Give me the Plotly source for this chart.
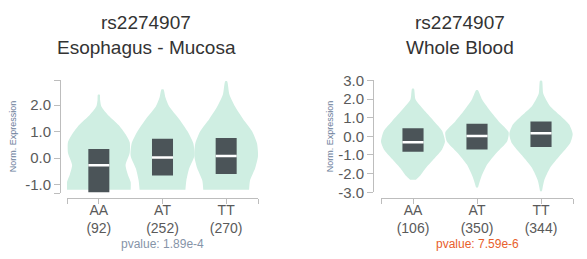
import plotly.graph_objects as go

# ---------------- data ----------------
categories = ["AA", "AT", "TT"]
snp = "rs2274907"
tissues = ["Esophagus - Mucosa", "Whole Blood"]
left_counts = [92, 252, 270]
right_counts = [106, 350, 344]
left_pvalue = "pvalue: 1.89e-4"
right_pvalue = "pvalue: 7.59e-6"

left_yticks = [-1.0, 0.0, 1.0, 2.0]
right_yticks = [-3.0, -2.0, -1.0, 0.0, 1.0, 2.0, 3.0]

# violin density profiles: expression levels and relative half-widths (0..1)
left_aa_y = [-1.2, -0.91, -0.62, -0.27, 0.2, 0.6, 0.9, 1.25, 1.6, 1.95, 2.2, 2.4]
left_aa_w = [1.0, 1.0, 0.91, 0.84, 0.97, 0.97, 0.84, 0.62, 0.31, 0.08, 0.04, 0.03]
left_at_y = [-1.2, -0.85, -0.39, 0.08, 0.55, 1.02, 1.48, 1.95, 2.3, 2.6]
left_at_w = [0.72, 0.75, 0.84, 1.0, 0.97, 0.78, 0.52, 0.21, 0.09, 0.03]
left_tt_y = [-1.2, -0.85, -0.39, 0.08, 0.55, 1.02, 1.48, 1.95, 2.42, 2.91]
left_tt_w = [0.72, 0.75, 0.91, 1.0, 0.97, 0.81, 0.53, 0.28, 0.10, 0.03]

right_aa_y = [-2.33, -2.12, -1.7, -1.2, -0.7, -0.28, 0.3, 0.8, 1.3, 1.97, 2.55]
right_aa_w = [0.09, 0.22, 0.40, 0.66, 0.91, 1.0, 0.91, 0.66, 0.40, 0.08, 0.03]
right_at_y = [-2.75, -2.2, -1.53, -0.87, -0.28, 0.22, 0.8, 1.3, 1.97, 2.47]
right_at_w = [0.03, 0.13, 0.31, 0.62, 0.94, 0.99, 0.68, 0.44, 0.16, 0.03]
right_tt_y = [-2.95, -2.37, -1.7, -1.03, -0.37, 0.13, 0.63, 1.13, 1.63, 2.3, 3.0]
right_tt_w = [0.03, 0.10, 0.28, 0.59, 0.91, 0.99, 0.88, 0.59, 0.28, 0.07, 0.03]

# box statistics (q1, median, q3)
left_q1 = [-1.29, -0.66, -0.60]
left_med = [-0.27, 0.02, 0.08]
left_q3 = [0.34, 0.73, 0.76]
right_q1 = [-0.83, -0.70, -0.57]
right_med = [-0.32, 0.02, 0.17]
right_q3 = [0.43, 0.67, 0.80]

# ---------------- styles ----------------
VIOLIN = "#cfeee2"
BOX = "#4b5458"
AXIS = "#bdbdbd"
TICKTXT = "#5a5a5a"
FONT = "Liberation Sans, Arial, sans-serif"
PAGE_W, PAGE_H = 587, 259
OFF = 8                      # the page body margin shifts the plot div by 8px
W, H = PAGE_W - OFF, PAGE_H - OFF
HALF = 0.5                   # max half-width in band units
BOXW = 0.33


def fx(px):                  # page x pixel -> paper fraction
    return (px - OFF) / W


def fy(py):                  # page y pixel -> paper fraction
    return (H - (py - OFF)) / H


def violin(xc, ys, ws, xa, ya):
    xs = [xc + HALF * w for w in ws] + [xc - HALF * w for w in reversed(ws)]
    yy = list(ys) + list(reversed(ys))
    return go.Scatter(x=xs, y=yy, mode="lines", fill="toself", fillcolor=VIOLIN,
                      line=dict(width=0, color=VIOLIN, shape="spline", smoothing=0.6),
                      hoverinfo="skip", showlegend=False, xaxis=xa, yaxis=ya)


fig = go.Figure()

panels = [
    dict(xa="x", ya="y", prof=[(left_aa_y, left_aa_w), (left_at_y, left_at_w), (left_tt_y, left_tt_w)],
         q1=left_q1, med=left_med, q3=left_q3),
    dict(xa="x2", ya="y2", prof=[(right_aa_y, right_aa_w), (right_at_y, right_at_w), (right_tt_y, right_tt_w)],
         q1=right_q1, med=right_med, q3=right_q3),
]

for p in panels:
    for i, (ys, ws) in enumerate(p["prof"]):
        fig.add_trace(violin(i, ys, ws, p["xa"], p["ya"]))
    for i, (a, b) in enumerate(zip(p["q1"], p["q3"])):
        fig.add_trace(go.Scatter(x=[i - BOXW / 2, i + BOXW / 2, i + BOXW / 2, i - BOXW / 2, i - BOXW / 2],
                                 y=[a, a, b, b, a], mode="lines", fill="toself", fillcolor=BOX,
                                 line=dict(width=0, color=BOX), hoverinfo="skip", showlegend=False,
                                 xaxis=p["xa"], yaxis=p["ya"]))
    mx, my = [], []
    for i, m in enumerate(p["med"]):
        mx += [i - BOXW / 2, i + BOXW / 2, None]
        my += [m, m, None]
    fig.add_trace(go.Scatter(x=mx, y=my, mode="lines", line=dict(color="white", width=2.5),
                             hoverinfo="skip", showlegend=False, xaxis=p["xa"], yaxis=p["ya"]))


def xticks(counts):
    return [""] + ["%s<br>(%d)" % (c, n) for c, n in zip(categories, counts)] + [""]


xaxis_common = dict(range=[-0.5, 2.5], showgrid=False, zeroline=False, showline=True,
                    linecolor=AXIS, linewidth=1, ticks="outside", ticklen=5, tickcolor=AXIS,
                    tickvals=[-0.5, 0, 1, 2, 2.5],
                    tickfont=dict(family=FONT, size=14, color=TICKTXT), anchor="free",
                    ticklabelstandoff=-6,
                    position=fy(202), fixedrange=True)
yaxis_common = dict(showgrid=False, zeroline=False, showline=True, linecolor=AXIS, linewidth=1,
                    ticks="outside", ticklen=6, tickcolor=AXIS,
                    tickfont=dict(family=FONT, size=15, color=TICKTXT), anchor="free",
                    fixedrange=True)

left_range = [-1.33, 2.94]
right_range = [-3.0, 3.0]

fig.update_layout(
    width=W, height=H, margin=dict(l=0, r=0, t=0, b=0),
    paper_bgcolor="white", plot_bgcolor="rgba(0,0,0,0)",
    showlegend=False,
    xaxis=dict(xaxis_common, domain=[fx(67), fx(258)], ticktext=xticks(left_counts)),
    xaxis2=dict(xaxis_common, domain=[fx(381), fx(573)], ticktext=xticks(right_counts)),
    yaxis=dict(yaxis_common, domain=[fy(197), fy(76)], range=left_range,
               position=fx(60),
               tickvals=[left_range[0]] + left_yticks + [left_range[1]],
               ticktext=[""] + ["%.1f" % v for v in left_yticks] + [""]),
    yaxis2=dict(yaxis_common, domain=[fy(196), fy(76)], range=right_range,
                position=fx(373),
                tickvals=right_yticks, ticktext=["%.1f" % v for v in right_yticks]),
)

ann = []
title_x = [146, 460]
for tx, tissue in zip(title_x, tissues):
    ann.append(dict(x=fx(tx), y=fy(14), xref="paper", yref="paper", text=snp, showarrow=False,
                    font=dict(family=FONT, size=19, color="#333333"), xanchor="center", yanchor="middle"))
    ann.append(dict(x=fx(tx), y=fy(41), xref="paper", yref="paper", text=tissue, showarrow=False,
                    font=dict(family=FONT, size=19, color="#333333"), xanchor="center", yanchor="middle"))
ann.append(dict(x=1, y=fy(251), xref="x", yref="paper", text=left_pvalue, showarrow=False,
                font=dict(family=FONT, size=12, color="#8694a8"), xanchor="center", yanchor="middle"))
ann.append(dict(x=1, y=fy(251), xref="x2", yref="paper", text=right_pvalue, showarrow=False,
                font=dict(family=FONT, size=12, color="#e8602c"), xanchor="center", yanchor="middle"))
for ax_x in (13, 330):
    ann.append(dict(x=fx(ax_x), y=fy(136), xref="paper", yref="paper", text="Norm. Expression",
                    textangle=-90, showarrow=False,
                    font=dict(family=FONT, size=9, color="#6a7c9a"), xanchor="center", yanchor="middle"))
fig.update_layout(annotations=ann)

fig.write_html("out.html")
